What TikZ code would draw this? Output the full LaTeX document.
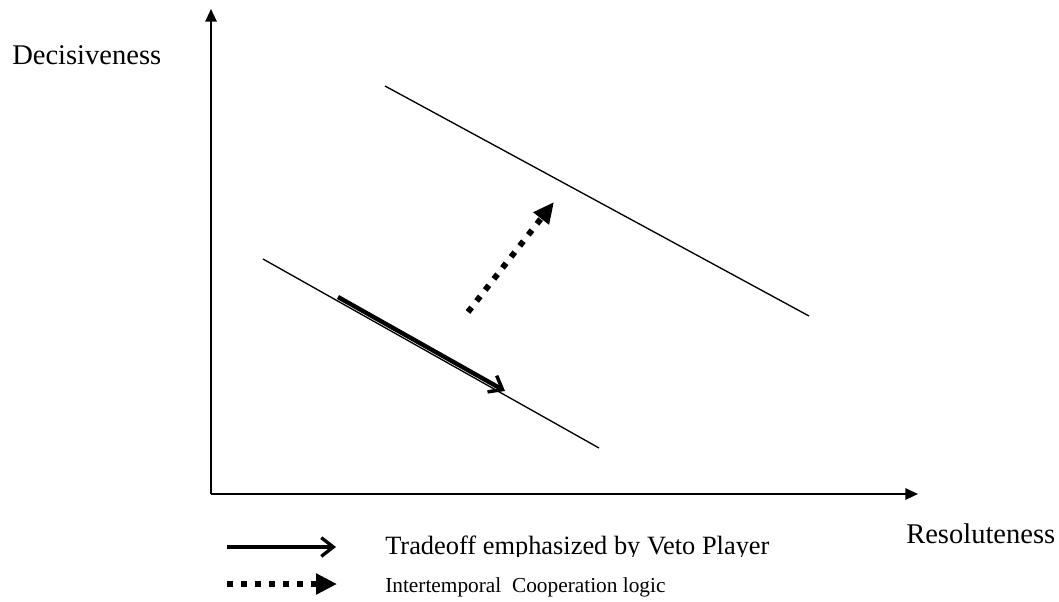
\documentclass[tikz,border=0pt]{standalone}
\usepackage{fontspec}
\setmainfont{Liberation Serif}
\usetikzlibrary{arrows.meta}

\tikzset{
  axis/.style={line width=1.5pt, -{Triangle[length=9.5pt,width=8.5pt]}},
  level/.style={line width=1pt},
  tradeoff/.style={line width=3.3pt, -{Straight Barb[length=9pt,width=14pt,line width=2.6pt]}},
  dots/.style={line width=4.4pt, dash pattern=on 4.4pt off 6.1pt},
  coop/.style={dots, -{Triangle[length=15.75pt,width=14pt]}},
  label/.style={font=\fontsize{21.4}{24}\selectfont, inner sep=0pt, anchor=base west},
  legendbig/.style={font=\fontsize{19.8}{22}\selectfont, inner sep=0pt, anchor=base west},
  legend/.style={font=\fontsize{16}{19}\selectfont, inner sep=0pt, anchor=base west}
}

\begin{document}
\begin{tikzpicture}[x=0.75pt, y=-0.75pt]
  \useasboundingbox (0,0) rectangle (1059,601);

  % axes
  \coordinate (O) at (211,494);
  \coordinate (ytop) at (211,9);
  \coordinate (xend) at (918,494);
  \draw[axis] (O) -- (ytop);
  \draw[axis] (O) -- (xend);

  \node[label] (dec) at (12,64) {Decisiveness};
  \node[label] (res) at (906,543) {Resoluteness};

  % two parallel frontiers
  \coordinate (l1) at (263,259);
  \coordinate (l2) at (599,448);
  \coordinate (u1) at (385,86);
  \coordinate (u2) at (809,316);
  \draw[level] (l1) -- (l2);
  \draw[level] (u1) -- (u2);

  % movement along the lower frontier
  \coordinate (t1) at (338,297);
  \coordinate (t2) at (505,391);
  \draw[tradeoff] (t1) -- (t2);

  % shift outward to the upper frontier
  \coordinate (c1) at (468,312);
  \coordinate (c2) at (554,202);
  \draw[coop] (c1) -- (c2);

  % legend
  \coordinate (a1) at (227,547);
  \coordinate (a2) at (336,547);
  \draw[line width=2.5pt, -{Straight Barb[length=9pt,width=14pt,line width=2.5pt]}] (a1) -- (a2);
  \coordinate (b1) at (227,584);
  \coordinate (b2) at (337,584);
  \draw[dots, -{Triangle[length=15.75pt,width=15pt]}] (b1) -- (b2);

  % first legend entry sits in a box that cuts off its descenders
  \begin{scope}
    \clip (380,525) rectangle (800,556.5);
    \node[legendbig] (leg1) at (385,554.5) {Tradeoff emphasized by Veto Player};
  \end{scope}
  \node[legend] (leg2) at (385,592) {Intertemporal\ \ Cooperation logic};
\end{tikzpicture}
\end{document}
